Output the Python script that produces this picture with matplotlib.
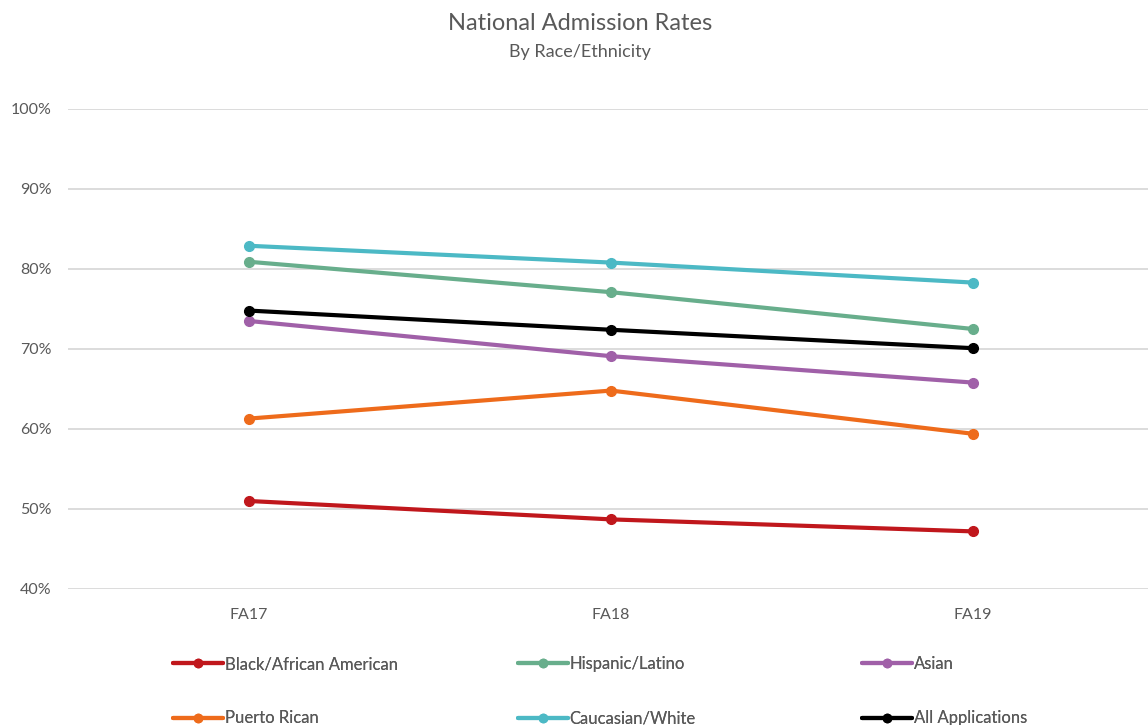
import matplotlib
matplotlib.use("Agg")
import matplotlib.pyplot as plt
from matplotlib.ticker import PercentFormatter

# Admission rates (%) by term
terms = ["FA17", "FA18", "FA19"]
black_african_american = [51.0, 48.7, 47.2]
hispanic_latino = [80.9, 77.1, 72.5]
asian = [73.5, 69.1, 65.8]
puerto_rican = [61.3, 64.8, 59.4]
caucasian_white = [82.9, 80.8, 78.3]
all_applications = [74.8, 72.4, 70.1]

series = [
    ("Black/African American", black_african_american, "#C0171C"),
    ("Hispanic/Latino", hispanic_latino, "#68AE8C"),
    ("Asian", asian, "#A060A8"),
    ("Puerto Rican", puerto_rican, "#EE6B1B"),
    ("Caucasian/White", caucasian_white, "#4CB9C5"),
    ("All Applications", all_applications, "#000000"),
]

plt.rcParams["font.family"] = ["Lato", "DejaVu Sans"]
text_color = "#595959"

fig = plt.figure(figsize=(11.48, 7.25), dpi=100)
ax = fig.add_axes([0.0592, 0.1876, 0.946, 0.6621])

x = list(range(len(terms)))
handles = {}
for name, vals, color in series:
    (ln,) = ax.plot(x, vals, color=color, lw=3, marker="o", markersize=7,
                    solid_capstyle="round", label=name, zorder=3)
    handles[name] = ln

ax.set_xlim(-0.5, 2.5)
ax.set_ylim(40, 100)
ax.set_yticks(range(40, 101, 10))
ax.yaxis.set_major_formatter(PercentFormatter(decimals=0))
ax.set_xticks(x)
ax.set_xticklabels(terms)
ax.grid(axis="y", color="#D9D9D9", lw=1.3, zorder=0)
ax.set_axisbelow(True)
for s in ax.spines.values():
    s.set_visible(False)
ax.tick_params(axis="both", length=0, colors=text_color, labelsize=11.5)
ax.tick_params(axis="y", pad=12)
ax.tick_params(axis="x", pad=14)

fig.text(0.505, 0.968, "National Admission Rates", ha="center", va="center",
         fontsize=17, color=text_color)
fig.text(0.505, 0.928, "By Race/Ethnicity", ha="center", va="center",
         fontsize=13, color=text_color)

# Legend laid out in three columns, two entries each
columns = [
    ["Black/African American", "Puerto Rican"],
    ["Hispanic/Latino", "Caucasian/White"],
    ["Asian", "All Applications"],
]
col_x = [0.151, 0.451, 0.751]
for names, cx in zip(columns, col_x):
    leg = fig.legend([handles[n] for n in names], names, loc="upper left",
                     bbox_to_anchor=(cx, 0.095), frameon=False, fontsize=12,
                     handlelength=3.0, handletextpad=0.1, labelspacing=2.3,
                     borderaxespad=0, borderpad=0, markerscale=0.85)
    for t in leg.get_texts():
        t.set_color(text_color)
    fig.add_artist(leg)

fig.savefig("out.png", dpi=100, facecolor="white")
